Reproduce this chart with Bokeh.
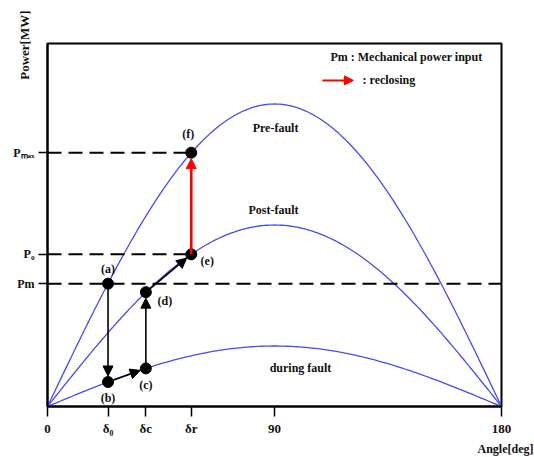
import numpy as np
from bokeh.plotting import figure
from bokeh.models import Arrow, NormalHead, Label, FixedTicker, Title
from bokeh.embed import file_html
from bokeh.resources import INLINE

# ---------------- data ----------------
curve_names = ["Pre-fault", "Post-fault", "during fault"]
curve_amplitudes = [1.0, 0.60, 0.20]          # P = Pmax * sin(delta)

delta_0 = 24.0
delta_c = 39.0
delta_r = 57.0
Pm = 0.406
P0 = 0.503
Pmax_val = 0.839

x_tick_values = [0, 24, 39, 57, 90, 180]
x_tick_labels = ["0", "δ₀", "δc", "δr", "90", "180"]
y_tick_values = [0.406, 0.503, 0.839]
y_tick_labels = ["Pm", "P₀", "Pₘₐₓ"]

point_names = ["(a)", "(b)", "(c)", "(d)", "(e)", "(f)"]
point_x = [24, 24, 39, 39, 57, 57]
point_y = [0.406, 0.081, 0.126, 0.378, 0.503, 0.839]

arrow_pairs = [(0, 1), (1, 2), (2, 3), (3, 4)]   # black steps
red_pair = (4, 5)                               # reclosing

# ---------------- figure ----------------
FONT = "Liberation Serif"
BLUE = "#4b4bf2"
TXT = "#111111"
PX_X = 454 / 180.0      # pixels per degree
PX_Y = 363 / 1.2        # pixels per unit

p = figure(width=534, height=457, x_range=(0, 180), y_range=(0, 1.2),
           output_backend="svg", toolbar_location=None,
           min_border_left=47, min_border_right=33,
           min_border_top=43, min_border_bottom=51)
p.grid.visible = False
p.outline_line_color = "black"
p.outline_line_width = 2
p.background_fill_color = "white"
p.border_fill_color = "white"

# axes
p.xaxis.ticker = FixedTicker(ticks=x_tick_values)
p.xaxis.major_label_overrides = {v: s for v, s in zip(x_tick_values, x_tick_labels)}
p.yaxis.ticker = FixedTicker(ticks=y_tick_values)
p.yaxis.major_label_overrides = {v: s for v, s in zip(y_tick_values, y_tick_labels)}
for ax in (p.xaxis, p.yaxis):
    ax.minor_tick_line_color = None
    ax.major_tick_in = 0
    ax.major_tick_line_color = "black"
    ax.major_tick_line_width = 1.5
    ax.axis_line_color = "black"
    ax.axis_line_width = 2
    ax.major_label_text_font = FONT
    ax.major_label_text_font_style = "bold"
    ax.major_label_text_font_size = "13px"
    ax.major_label_text_color = TXT
p.yaxis.major_label_text_font_size = "12px"
p.xaxis.major_tick_out = 10
p.yaxis.major_tick_out = 9
p.xaxis.major_label_standoff = 4
p.yaxis.major_label_standoff = 4

# axis titles
p.add_layout(Title(text="Angle[deg]", align="right", offset=-32, standoff=2,
                   text_font=FONT, text_font_style="bold", text_font_size="12px",
                   text_color=TXT), "below")
p.add_layout(Title(text="Power[MW]", align="right", offset=-33, standoff=-42,
                   text_font=FONT, text_font_style="bold", text_font_size="13px",
                   text_color=TXT), "left")

# curves
angles = np.arange(0, 181, 1.0)
for name, amp in zip(curve_names, curve_amplitudes):
    p.line(angles, amp * np.sin(np.radians(angles)), line_color=BLUE, line_width=1.3)

# dashed reference lines
p.line([0, 180], [Pm, Pm], line_color="black", line_width=2, line_dash="14 7")
p.line([0, delta_r], [P0, P0], line_color="black", line_width=2, line_dash="14 7")
p.line([0, delta_r], [Pmax_val, Pmax_val], line_color="black", line_width=2, line_dash="14 7")


def add_arrow(i, j, color, width, gap=6.0):
    x1, y1, x2, y2 = point_x[i], point_y[i], point_x[j], point_y[j]
    dxp, dyp = (x2 - x1) * PX_X, (y2 - y1) * PX_Y
    L = np.hypot(dxp, dyp)
    ex = x2 - gap * dxp / L / PX_X
    ey = y2 - gap * dyp / L / PX_Y
    p.add_layout(Arrow(x_start=x1, y_start=y1, x_end=ex, y_end=ey,
                       line_color=color, line_width=width,
                       end=NormalHead(size=10, fill_color=color, line_color=color)))


for i, j in arrow_pairs:
    add_arrow(i, j, "black", 1.6)
add_arrow(red_pair[0], red_pair[1], "red", 2.6)

# points
p.scatter(point_x, point_y, size=11, fill_color="black", line_color="black")

# point labels (pixel offsets converted to data)
label_offsets = [(0, 15), (0, -16), (0, -17), (19, -9), (16, -7), (-3, 19)]
for name, x, y, (ox, oy) in zip(point_names, point_x, point_y, label_offsets):
    p.add_layout(Label(x=x + ox / PX_X, y=y + oy / PX_Y, text=name,
                       text_font=FONT, text_font_style="bold", text_font_size="12px",
                       text_align="center", text_baseline="middle", text_color=TXT))

# curve names
curve_label_pos = [(90.4, 0.922), (89.6, 0.648), (100.3, 0.126)]
for name, (x, y) in zip(curve_names, curve_label_pos):
    p.add_layout(Label(x=x, y=y, text=name, text_font=FONT, text_font_style="bold",
                       text_font_size="12px", text_align="center", text_baseline="middle",
                       text_color=TXT))

# legend text
p.add_layout(Label(x=142.3, y=1.154, text="Pm : Mechanical power input", text_font=FONT,
                   text_font_style="bold", text_font_size="12px", text_align="center",
                   text_baseline="middle", text_color=TXT))
p.add_layout(Arrow(x_start=109.0, y_start=1.078, x_end=121.3, y_end=1.078,
                   line_color="red", line_width=2,
                   end=NormalHead(size=9, fill_color="red", line_color="red")))
p.add_layout(Label(x=124.9, y=1.078, text=": reclosing", text_font=FONT,
                   text_font_style="bold", text_font_size="12px", text_align="left",
                   text_baseline="middle", text_color=TXT))

open("out.html", "w").write(file_html(p, INLINE))
